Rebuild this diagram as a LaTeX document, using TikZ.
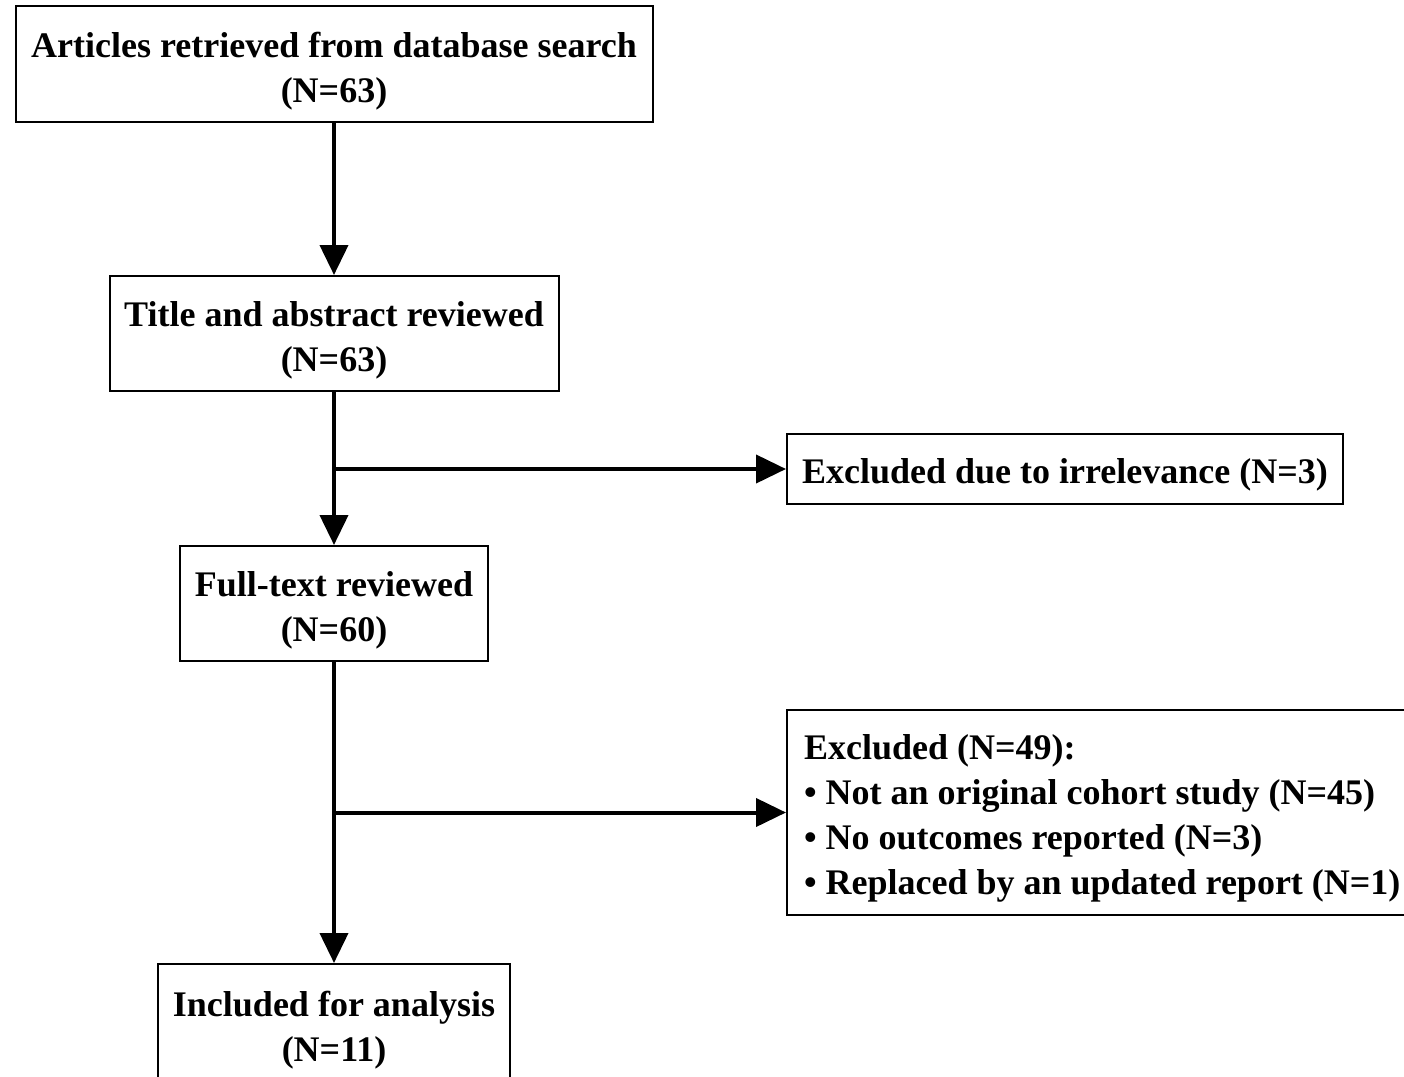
\documentclass[tikz,border=0pt]{standalone}
\usepackage{fontspec}
\setmainfont{Liberation Serif}
\usetikzlibrary{arrows.meta, positioning}

\begin{document}
\begin{tikzpicture}[x=1pt,y=-1pt,
  box/.style={draw, line width=2pt, align=center, inner sep=0pt, text height=84pt,
    font=\fontsize{36}{45}\selectfont\bfseries},
  sidebox/.style={box, text height=37pt},
  flow/.style={line width=4pt, -{Triangle[length=30pt,width=28pt]}}]
\clip (0,0) rectangle (1404,1076);
\node[box, minimum width=637, minimum height=116] (search) at (334,64)
  {Articles retrieved from database search\\(N=63)};
\node[box, minimum width=449, minimum height=115] (title) at (334,333.5)
  {Title and abstract reviewed\\(N=63)};
\node[sidebox, minimum width=556, minimum height=70] (irrel) at (1065,469)
  {Excluded due to irrelevance (N=3)};
\node[box, minimum width=308, minimum height=115] (fulltext) at (334,603.5)
  {Full-text reviewed\\(N=60)};
\node[sidebox, anchor=west, align=flush left, text width=600, inner xsep=17, minimum height=205] (excl) at (786,812.5)
  {Excluded (N=49):\\
   • Not an original cohort study (N=45)\\
   • No outcomes reported (N=3)\\
   • Replaced by an updated report (N=1)};
\node[box, minimum width=352, minimum height=118] (incl) at (334,1023)
  {Included for analysis\\(N=11)};

\draw[flow] (search) -- (title);
\draw[flow] (title) -- (fulltext);
\draw[flow] (title.south |- irrel.west) -- (irrel.west);
\draw[flow] (fulltext) -- (incl);
\draw[flow] (fulltext.south |- excl.west) -- (excl.west);
\end{tikzpicture}
\end{document}
